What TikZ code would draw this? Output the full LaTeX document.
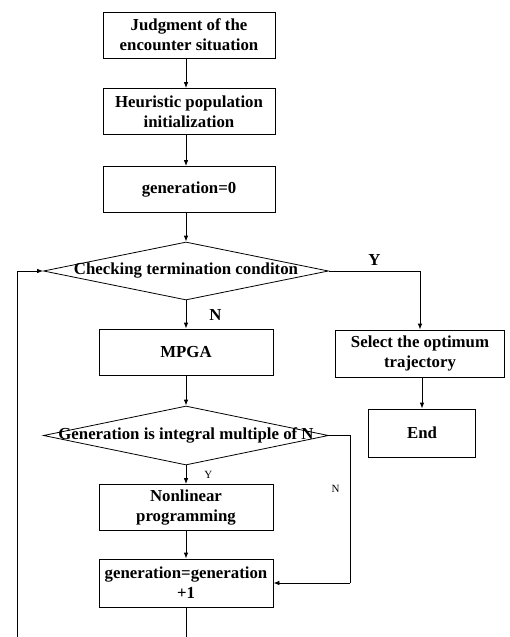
\documentclass[tikz,border=0pt]{standalone}
\usepackage{fontspec}
\setmainfont{Liberation Serif}
\usetikzlibrary{positioning,shapes.geometric,arrows.meta}
\tikzset{>={Latex[length=6pt,width=4.5pt]}}

\tikzset{
  stepbox/.style={draw, rectangle, minimum width=172pt, minimum height=46pt, inner sep=0pt, align=center},
  decide/.style={draw, diamond, minimum width=285pt, minimum height=58pt, inner sep=0pt},
  smalllbl/.style={inner sep=1pt, font=\normalfont\fontsize{11}{13}\selectfont},
  biglbl/.style={inner sep=1pt}
}

\begin{document}
\begin{tikzpicture}[x=1pt, y=1pt, line width=0.8pt,
    every node/.append style={font=\bfseries\fontsize{16.8}{20}\selectfont}]
      \useasboundingbox (0,0) rectangle (510,-637);
      \node[stepbox] (n0) at (189,-35) {Judgment of the\\encounter situation};
      \node[stepbox, below of=n0, node distance=76.5pt] (n1) {Heuristic population\\initialization};
      \node[stepbox, below of=n1, node distance=78pt] (n2) {generation=0};
      \node[decide, below of=n2, node distance=81.5pt, xshift=-3pt] (d1) {\makebox[0pt]{Checking termination conditon}};
      \node[stepbox, below of=d1, node distance=81pt, minimum width=174pt] (n3) {MPGA};
      \node[decide, below of=n3, node distance=83.5pt, minimum height=59pt] (d2) {\makebox[0pt]{Generation is integral multiple of N}};
      \node[stepbox, below of=d2, node distance=72pt, minimum width=174pt] (n4) {Nonlinear\\programming};
      \node[stepbox, below of=n4, node distance=75.5pt, minimum width=174pt, minimum height=48pt] (n5) {generation=generation\\+1};
      \node[stepbox, right of=n3, node distance=234pt, yshift=-1.5pt, minimum width=169pt, minimum height=47pt] (n6) {Select the optimum\\trajectory};
      \node[stepbox, below of=n6, node distance=79.5pt, xshift=2pt, minimum width=107pt, minimum height=48pt] (n7) {End};
      \coordinate (aux1) at (186,-637);
      \coordinate (aux2) at (17,-637);
      \coordinate (aux3) at (350,-583);
      \draw[->] (n0.south -| d1.north) -- (n1.north -| d1.north);
      \draw[->] (n1.south -| d1.north) -- (n2.north -| d1.north);
      \draw[->] (n2.south -| d1.north) -- (d1.north);
      \draw[->] (d1.south) -- node[biglbl, right=22pt]{N} (n3.north);
      \draw[->] (d1.east) -| node[biglbl, pos=0.25, above=4pt]{Y} (n6.north);
      \draw[->] (n6.south -| n7.north) -- (n7.north);
      \draw[->] (n3) -- (d2.north);
      \draw[->] (d2.south) -- node[smalllbl, right=17pt]{Y} (n4.north);
      \draw (d2.east) -| node[smalllbl, pos=0.68, left=9pt]{N} (aux3);
      \draw[->] (aux3) -- (n5.east);
      \draw[->] (n4) -- (n5);
      \draw (n5.south) -- (aux1);
      \draw[->] (aux2) |- (d1.west);
    \end{tikzpicture}
\end{document}
